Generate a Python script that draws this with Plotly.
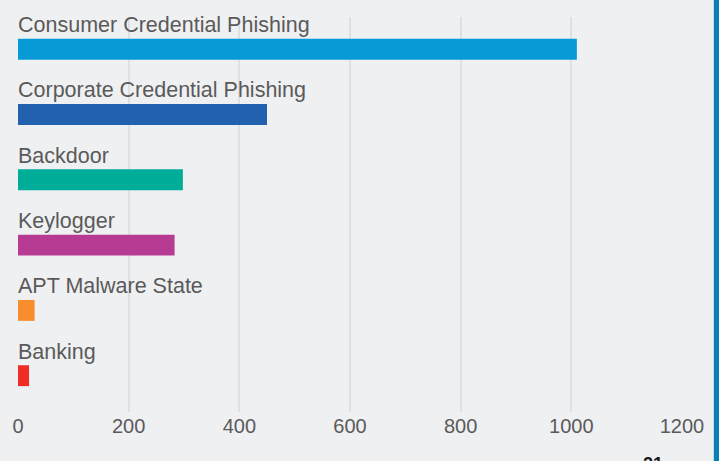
import plotly.graph_objects as go

categories = ["Consumer Credential Phishing", "Corporate Credential Phishing", "Backdoor",
              "Keylogger", "APT Malware State", "Banking"]
values = [1010, 450, 298, 283, 30, 20]
colors = ["#069bd7", "#2161ad", "#00ad99", "#b83b93", "#f78d2d", "#ef2d27"]
x_ticks = [0, 200, 400, 600, 800, 1000, 1200]
page_number = "21"

W, H = 719, 461
L, R, T, B = 14, 37, 17, 49
plot_w = W - L - R
plot_h = H - T - B

fig = go.Figure()
fig.add_trace(go.Bar(
    x=values, y=categories, orientation="h",
    marker=dict(color=colors, line=dict(width=0)),
    width=0.32, showlegend=False, hoverinfo="x+y",
))

for cat in categories:
    fig.add_annotation(
        x=0, y=cat, xref="x", yref="y", text=cat, showarrow=False,
        xanchor="left", yanchor="middle", xshift=-2, yshift=24,
        font=dict(family="Liberation Sans, Arial, sans-serif", size=21.5, color="#5a5a5a"),
    )

# page number, partially cut at the bottom edge as in the reference
fig.add_annotation(
    x=(653 - L) / plot_w, y=(H - B - 452) / plot_h, xref="paper", yref="paper",
    text="<b>" + page_number + "</b>", showarrow=False, xanchor="center", yanchor="top",
    font=dict(family="Liberation Sans, Arial, sans-serif", size=18, color="#1a1a1a"),
)

fig.update_layout(
    width=W, height=H,
    margin=dict(l=L, r=R, t=T, b=B, pad=0),
    paper_bgcolor="#eff0f2", plot_bgcolor="#eff0f2",
    xaxis=dict(
        range=[0, 1200], tickvals=x_ticks, showgrid=True, gridcolor="#dfe0e2", gridwidth=1.5,
        zeroline=False, showline=False, ticks="",
        tickfont=dict(family="Liberation Sans, Arial, sans-serif", size=20, color="#5a5a5a"),
        fixedrange=True,
    ),
    yaxis=dict(
        categoryorder="array", categoryarray=categories, range=[5.556, -0.493],
        showticklabels=False, showgrid=False, zeroline=False, ticks="", fixedrange=True,
    ),
    shapes=[dict(type="rect", xref="paper", yref="paper",
                 x0=(714 - L) / plot_w, x1=(W - L) / plot_w + 0.02,
                 y0=-B / plot_h - 0.05, y1=(H - B) / plot_h + 0.05,
                 fillcolor="#0a7fb5", line=dict(width=0), layer="above")],
)

fig.write_html("out.html", config={"displayModeBar": False},
               post_script="document.body.style.margin='0';document.body.style.overflow='hidden';")
